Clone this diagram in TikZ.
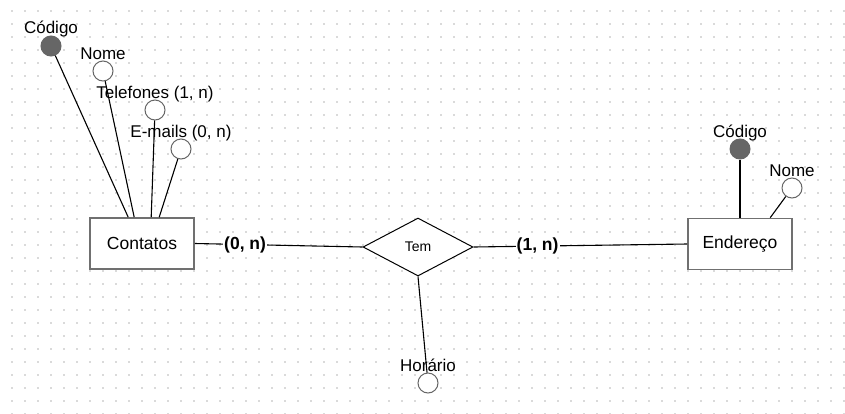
\documentclass[tikz,border=0pt]{standalone}
\usepackage{fontspec}
\setmainfont{Liberation Sans}
\usetikzlibrary{shapes.geometric}
\definecolor{boxgray}{HTML}{707070}
\definecolor{attrgray}{HTML}{666666}
\definecolor{dotgray}{HTML}{DADADA}
\tikzset{
  entity/.style={draw=boxgray, line width=1.6pt, fill=white, minimum width=104pt, minimum height=51pt, inner sep=0pt, font=\fontsize{17.5}{20}\selectfont},
  rel/.style={draw=black, line width=1pt, fill=white, diamond, aspect=1.9, minimum width=110pt, minimum height=58pt, inner sep=0pt, font=\fontsize{14}{16}\selectfont},
  attr/.style={circle, draw=attrgray, line width=1pt, fill=white, minimum size=20pt, inner sep=0pt},
  keyattr/.style={circle, draw=attrgray, line width=1pt, fill=attrgray, minimum size=20pt, inner sep=0pt},
  lbl/.style={anchor=base, inner sep=0pt, font=\fontsize{17}{20}\selectfont},
  card/.style={fill=white, inner sep=1pt, font=\bfseries\fontsize{17.5}{20}\selectfont},
  conn/.style={draw=black, line width=1.1pt}
}
\begin{document}
\begin{tikzpicture}[x=1pt, y=-1pt]
\fill[white] (0,0) rectangle (845,413);
\useasboundingbox (0,0) rectangle (845,413);
% dotted grid
\foreach \i in {0,...,64} {
  \foreach \j in {0,...,31} {
    \fill[dotgray] ({12+13*\i-0.6},{11+13*\j-0.6}) rectangle ++(1.2,1.2);
  }
}
% entities
\node[entity] (cont) at (142,243.5) {Contatos};
\node[entity] (end) at (740,244) {Endereço};
\node[rel] (tem) at (418,247) {Tem};
% Contatos attributes
\node[keyattr] (ccod) at (51,46) {};
\node[lbl] (lccod) at (51,33) {Código};
\node[attr] (cnome) at (103,71) {};
\node[lbl] (lcnome) at (103,59) {Nome};
\node[attr] (ctel) at (155,110) {};
\node[lbl] (lctel) at (155,98) {Telefones (1, n)};
\node[attr] (cmail) at (181,149) {};
\node[lbl] (lcmail) at (181,137) {E-mails (0, n)};
% Endereco attributes
\node[keyattr] (ecod) at (740,149) {};
\node[lbl] (lecod) at (740,137) {Código};
\node[attr] (enome) at (792,188) {};
\node[lbl] (lenome) at (792,176) {Nome};
% relationship attribute
\node[attr] (hor) at (428,383) {};
\node[lbl] (lhor) at (428,371) {Horário};
% connectors
\draw[conn] (ccod) -- ([xshift=39pt]cont.north west);
\draw[conn] (cnome) -- ([xshift=45pt]cont.north west);
\draw[conn] (ctel) -- ([xshift=62pt]cont.north west);
\draw[conn] (cmail) -- ([xshift=70pt]cont.north west);
\draw[conn] (ecod) -- (end.north);
\draw[conn] (enome) -- ([xshift=83pt]end.north west);
\draw[conn] (tem.south) -- (hor);
\draw[conn] (cont.east) -- node[card, pos=0.30] (c1) {(0, n)} (tem.west);
\draw[conn] (tem.east) -- node[card, pos=0.30] (c2) {(1, n)} (end.west);
\end{tikzpicture}
\end{document}
